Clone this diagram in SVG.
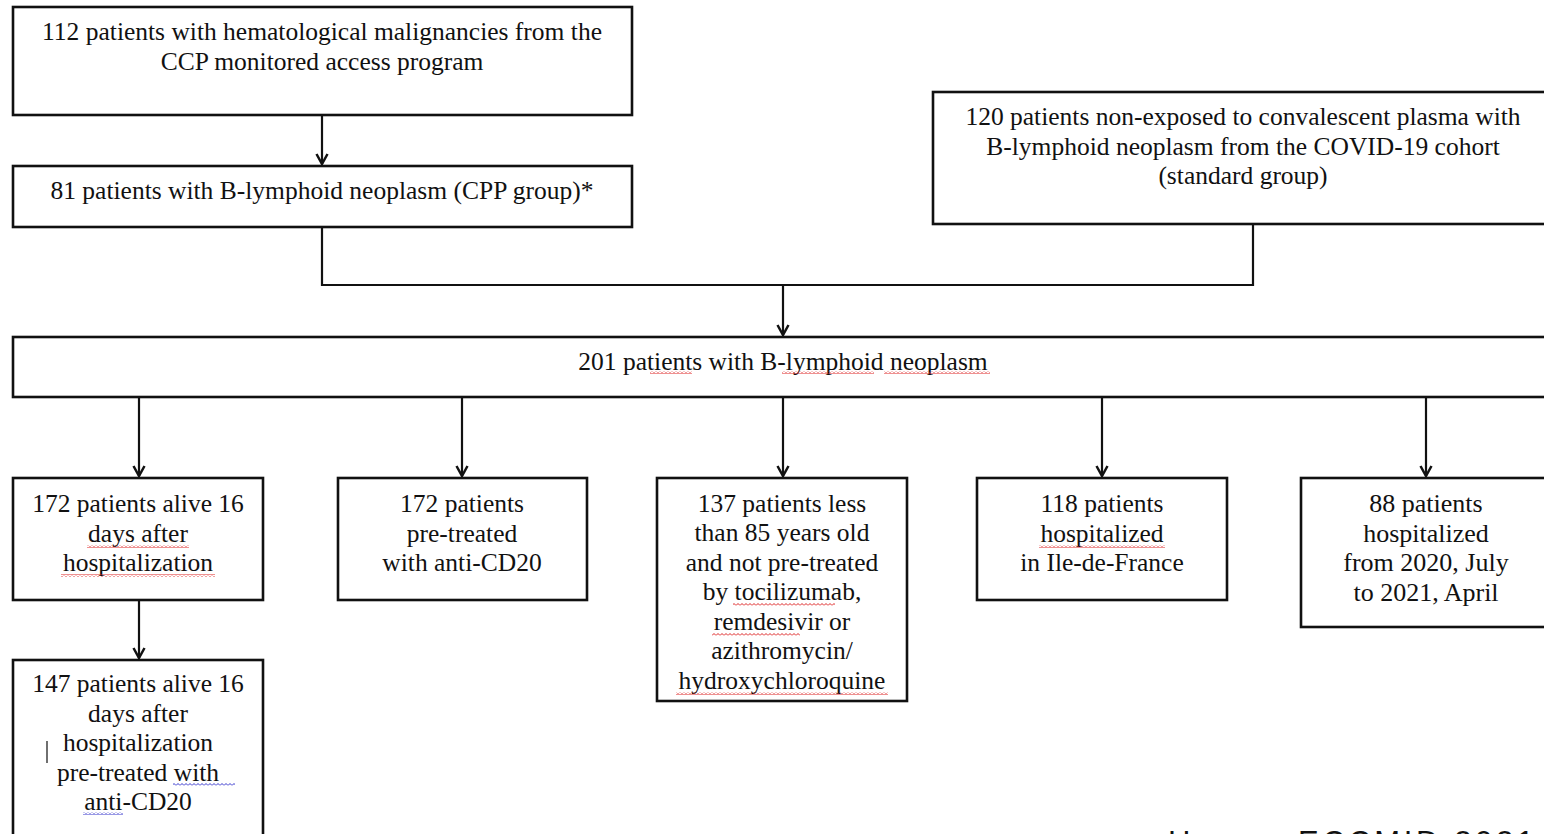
<svg xmlns="http://www.w3.org/2000/svg" width="1544" height="834" viewBox="0 0 1544 834">
<style>
.box{fill:#fff;stroke:#111;stroke-width:2.6}
.t{font-family:"Liberation Serif","Times New Roman",serif;font-size:25.5px;fill:#111;text-anchor:middle}
.t2{font-family:"Liberation Serif","Times New Roman",serif;font-size:26px;fill:#111;text-anchor:middle}
.c{fill:none;stroke:#111;stroke-width:2.2}
.src{font-family:"Liberation Sans",Arial,sans-serif;font-size:31px;fill:#111}
</style>
<defs>
<marker id="ah" markerWidth="14" markerHeight="14" refX="12" refY="7" orient="auto" markerUnits="userSpaceOnUse" viewBox="0 0 14 14">
<path d="M2,1.5 L12,7 L2,12.5" fill="none" stroke="#111" stroke-width="2.5"/>
</marker>
<pattern id="wr" width="4" height="3" patternUnits="userSpaceOnUse">
<polyline points="0,2.5 2,0.5 4,2.5" fill="none" stroke="#d22" stroke-width="1"/>
</pattern>
<pattern id="wb" width="4" height="3" patternUnits="userSpaceOnUse">
<polyline points="0,2.5 2,0.5 4,2.5" fill="none" stroke="#33c" stroke-width="1"/>
</pattern>
</defs>
<rect width="1544" height="834" fill="#fff"/>

<g id="connectors">
<line class="c" x1="322" y1="116" x2="322" y2="164" marker-end="url(#ah)"/>
<polyline class="c" points="322,228 322,285 1253,285 1253,225"/>
<line class="c" x1="783" y1="285" x2="783" y2="335" marker-end="url(#ah)"/>
<line class="c" x1="139" y1="398" x2="139" y2="476" marker-end="url(#ah)"/>
<line class="c" x1="462" y1="398" x2="462" y2="476" marker-end="url(#ah)"/>
<line class="c" x1="783" y1="398" x2="783" y2="476" marker-end="url(#ah)"/>
<line class="c" x1="1102" y1="398" x2="1102" y2="476" marker-end="url(#ah)"/>
<line class="c" x1="1426" y1="398" x2="1426" y2="476" marker-end="url(#ah)"/>
<line class="c" x1="139" y1="601" x2="139" y2="658" marker-end="url(#ah)"/>
</g>

<g id="n1">
<rect class="box" x="13" y="7" width="619" height="108"/>
<text class="t" x="322" y="40">112 patients with hematological malignancies from the</text>
<text class="t" x="322" y="70">CCP monitored access program</text>
</g>

<g id="n2">
<rect class="box" x="13" y="166" width="619" height="61"/>
<text class="t" x="322" y="199">81 patients with B-lymphoid neoplasm (CPP group)*</text>
</g>

<g id="n3">
<rect class="box" x="933" y="92" width="615" height="132"/>
<text class="t" x="1243" y="125">120 patients non-exposed to convalescent plasma with</text>
<text class="t" x="1243" y="155">B-lymphoid neoplasm from the COVID-19 cohort</text>
<text class="t" x="1243" y="184">(standard group)</text>
</g>

<g id="n4">
<rect class="box" x="13" y="337" width="1535" height="60"/>
<text class="t" x="783" y="370">201 patients with B-lymphoid neoplasm</text>
<rect x="650" y="371" width="42" height="3" fill="url(#wr)"/>
<rect x="782" y="371" width="92" height="3" fill="url(#wr)"/>
<rect x="884" y="371" width="106" height="3" fill="url(#wr)"/>
</g>

<g id="n5">
<rect class="box" x="13" y="478" width="250" height="122"/>
<text class="t" x="138" y="512">172 patients alive 16</text>
<text class="t" x="138" y="542">days after</text>
<text class="t" x="138" y="571">hospitalization</text>
<rect x="87" y="545" width="102" height="3" fill="url(#wr)"/>
<rect x="61" y="574" width="154" height="3" fill="url(#wr)"/>
</g>

<g id="n6">
<rect class="box" x="338" y="478" width="249" height="122"/>
<text class="t" x="462" y="512">172 patients</text>
<text class="t" x="462" y="542">pre-treated</text>
<text class="t" x="462" y="571">with anti-CD20</text>
</g>

<g id="n7">
<rect class="box" x="657" y="478" width="250" height="223"/>
<text class="t" x="782" y="512">137 patients less</text>
<text class="t" x="782" y="541">than 85 years old</text>
<text class="t" x="782" y="571">and not pre-treated</text>
<text class="t" x="782" y="600">by tocilizumab,</text>
<text class="t" x="782" y="630">remdesivir or</text>
<text class="t" x="782" y="659">azithromycin/</text>
<text class="t" x="782" y="689">hydroxychloroquine</text>
<rect x="733" y="603" width="102" height="3" fill="url(#wr)"/>
<rect x="712" y="633" width="88" height="3" fill="url(#wr)"/>
<rect x="676" y="692" width="212" height="3" fill="url(#wr)"/>
</g>

<g id="n8">
<rect class="box" x="977" y="478" width="250" height="122"/>
<text class="t" x="1102" y="512">118 patients</text>
<text class="t" x="1102" y="542">hospitalized</text>
<text class="t" x="1102" y="571">in Ile-de-France</text>
<rect x="1039" y="545" width="126" height="3" fill="url(#wr)"/>
</g>

<g id="n9">
<rect class="box" x="1301" y="478" width="247" height="149"/>
<text class="t2" x="1426" y="512">88 patients</text>
<text class="t2" x="1426" y="542">hospitalized</text>
<text class="t2" x="1426" y="571">from 2020, July</text>
<text class="t2" x="1426" y="601">to 2021, April</text>
</g>

<g id="n10">
<rect class="box" x="13" y="660" width="250" height="190"/>
<text class="t" x="138" y="692">147 patients alive 16</text>
<text class="t" x="138" y="722">days after</text>
<text class="t" x="138" y="751">hospitalization</text>
<text class="t" x="138" y="781">pre-treated with</text>
<text class="t" x="138" y="810">anti-CD20</text>
<line x1="47" y1="741" x2="47" y2="763" stroke="#333" stroke-width="1.4"/>
<rect x="173" y="783" width="62" height="3" fill="url(#wb)"/>
<rect x="83" y="812" width="40" height="3" fill="url(#wb)"/>
</g>

<text class="src" x="1168" y="853">Hueso,<tspan x="1298" textLength="236" lengthAdjust="spacing">ECCMID 2021</tspan></text>
</svg>
